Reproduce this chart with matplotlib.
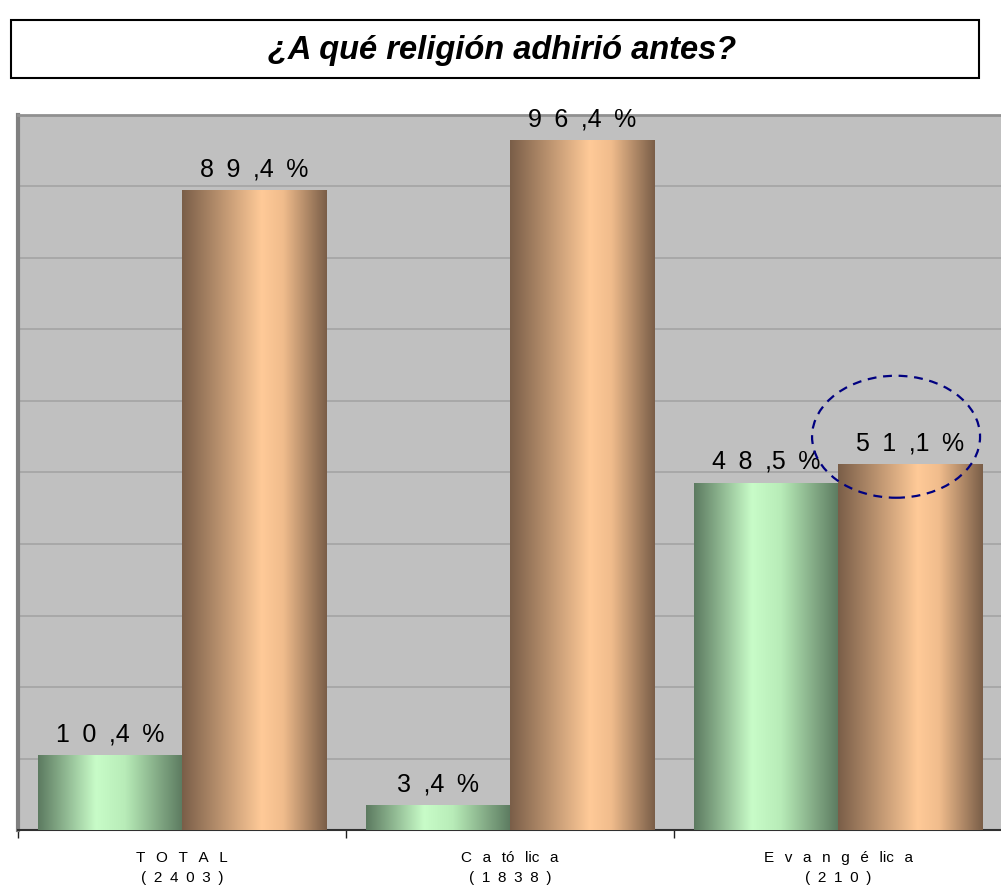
import matplotlib
matplotlib.use("Agg")
import matplotlib.pyplot as plt
import numpy as np
from matplotlib.colors import LinearSegmentedColormap
from matplotlib.patches import Ellipse, Rectangle

EN = "\u2002"
TH = "\u2009"
categories = [
    ("T O T A L", "( 2 4 0 3 )"),
    ("C a tó lic a", "( 1 8 3 8 )"),
    ("E v a n g é lic a", "( 2 1 0 )"),
]
green_vals = [10.4, 3.4, 48.5]
orange_vals = [89.4, 96.4, 51.1]
title = "¿A qué religión adhirió antes?"

def spaced(v):
    s = f"{v:.1f}"
    ip, dp = s.split(".")
    return EN.join(ip) + EN + "," + dp + EN + "%"

def cat_label(name, n):
    return name.replace(" ", EN + TH) + "\n" + n.replace(" ", EN)

plt.rcParams['font.family'] = ['Liberation Sans', 'DejaVu Sans']

fig = plt.figure(figsize=(10.01, 8.93), dpi=100)
ax = fig.add_axes([18/1001, 63/893, 984/1001, 715/893])
ax.set_facecolor("#C0C0C0")

x = np.arange(len(categories))
w = 0.44
gbars = ax.bar(x - w/2, green_vals, w, color="none", zorder=3)
obars = ax.bar(x + w/2, orange_vals, w, color="none", zorder=3)

green_cmap = LinearSegmentedColormap.from_list("g", [(0, "#5C7A60"), (0.4, "#C8FCC8"), (0.6, "#B8ECB8"), (1, "#5C7A60")])
orange_cmap = LinearSegmentedColormap.from_list("o", [(0, "#7A5E48"), (0.55, "#FFCA98"), (0.7, "#F0BC8C"), (1, "#7A5E48")])
grad = np.linspace(0, 1, 256).reshape(1, -1)

for bars, cmap in ((gbars, green_cmap), (obars, orange_cmap)):
    for p in bars:
        x0, y0 = p.get_x(), p.get_y()
        ax.imshow(grad, cmap=cmap, aspect="auto", extent=(x0, x0 + p.get_width(), y0, y0 + p.get_height()),
                  zorder=3, interpolation="bilinear")

for bars, vals in ((gbars, green_vals), (obars, orange_vals)):
    for p, v in zip(bars, vals):
        ax.text(p.get_x() + p.get_width()/2, p.get_height() + 1.3, spaced(v), ha="center", va="bottom",
                fontsize=18, color="black", zorder=5)

ax.set_xlim(-0.5, len(categories) - 0.5)
ax.set_ylim(0, 100)
ax.set_yticks(np.arange(0, 101, 10))
ax.set_yticklabels([])
ax.tick_params(axis="y", length=0)
ax.grid(axis="y", color="#A4A4A4", linewidth=1.2, zorder=1)
ax.set_axisbelow(True)

ax.set_xticks(x)
ax.set_xticklabels([cat_label(a, b) for a, b in categories], fontsize=11, linespacing=1.55)
ax.tick_params(axis="x", which="major", length=0, pad=15)
ax.set_xticks(np.arange(-0.5, len(categories), 1), minor=True)
ax.tick_params(axis="x", which="minor", length=6, width=1, color="#202020")

ax.spines["left"].set_color("#808080")
ax.spines["left"].set_linewidth(3)
ax.spines["top"].set_color("#909090")
ax.spines["top"].set_linewidth(2)
ax.spines["right"].set_visible(False)
ax.spines["bottom"].set_color("#303030")
ax.spines["bottom"].set_linewidth(1.5)

# highlight ellipse around the last orange value
p = obars[2]
cx = p.get_x() + p.get_width()/2
ell = Ellipse((cx - 0.043, orange_vals[2] + 3.9), width=168/328, height=122/7.15,
              fill=False, edgecolor="#000080", linestyle=(0, (4, 3)), linewidth=1.6, zorder=6, clip_on=False)
ax.add_patch(ell)

# title box
fig.patches.append(Rectangle((11/1001, (893-78)/893), 968/1001, 58/893, transform=fig.transFigure,
                             fill=False, edgecolor="black", linewidth=1.5))
fig.text(502/1001, 1 - 51/893, title, ha="center", va="center", fontsize=23.5,
         fontweight="bold", fontstyle="italic")

fig.savefig("out.png", dpi=100)
